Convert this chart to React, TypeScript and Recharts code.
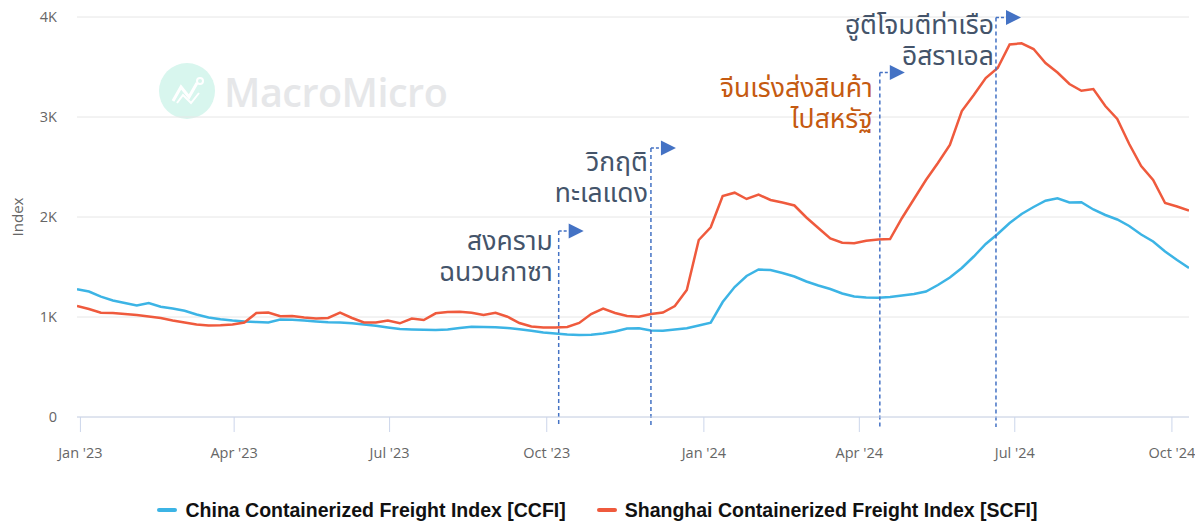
import React from 'react';
import {
  LineChart,
  Line,
  XAxis,
  YAxis,
  CartesianGrid,
  ReferenceLine,
  ReferenceDot
} from 'recharts';

const DAY = 86400000;
const firstWeek = Date.UTC(2022, 11, 30);

// weekly index values, Dec 30 2022 .. Oct 11 2024
const ccfi = [
  1277, 1255, 1203, 1165, 1140, 1115, 1140, 1103, 1085, 1062,
  1025, 995, 978, 965, 955, 950, 945, 975, 972, 965,
  955, 947, 945, 938, 925, 912, 895, 880, 875, 872,
  870, 875, 890, 903, 900, 897, 890, 877, 862, 845,
  835, 825, 820, 822, 835, 855, 885, 887, 865, 863,
  875, 888, 915, 943, 1150, 1300, 1410, 1475, 1470, 1440,
  1405, 1355, 1315, 1280, 1235, 1205, 1195, 1193, 1200, 1215,
  1230, 1255, 1320, 1395, 1490, 1605, 1730, 1830, 1940, 2030,
  2100, 2163, 2187, 2145, 2147, 2075, 2020, 1975, 1910, 1825,
  1755, 1655, 1570, 1490
];

const scfi = [
  1110, 1080, 1043, 1040, 1030, 1020, 1005, 990, 965, 945,
  925, 915, 918, 925, 945, 1040, 1045, 1008, 1010, 995,
  985, 990, 1043, 990, 945, 945, 965, 937, 985, 970,
  1037, 1050, 1052, 1043, 1020, 1043, 1003, 940, 905, 895,
  895, 900, 940, 1030, 1085, 1040, 1010, 1003, 1030, 1045,
  1110, 1270, 1770, 1897, 2210, 2243, 2180, 2225, 2170, 2145,
  2115, 1995, 1890, 1785, 1743, 1737, 1762, 1775, 1780, 1990,
  2180, 2370, 2540, 2720, 3060, 3220, 3390, 3490, 3725, 3737,
  3680, 3540, 3445, 3330, 3262, 3280, 3110, 2980, 2730, 2510,
  2370, 2140, 2105, 2065
];

const weeks = ccfi.map((_, i) => firstWeek + i * 7 * DAY);

const quarterTicks = [
  Date.UTC(2023, 0, 1), Date.UTC(2023, 3, 1), Date.UTC(2023, 6, 1), Date.UTC(2023, 9, 1),
  Date.UTC(2024, 0, 1), Date.UTC(2024, 3, 1), Date.UTC(2024, 6, 1), Date.UTC(2024, 9, 1)
];
const quarterLabels = ["Jan '23", "Apr '23", "Jul '23", "Oct '23", "Jan '24", "Apr '24", "Jul '24", "Oct '24"];

const yTicks = [0, 1000, 2000, 3000, 4000];
const yLabels = ['0', '1K', '2K', '3K', '4K'];

const seriesNames = ['China Containerized Freight Index [CCFI]', 'Shanghai Containerized Freight Index [SCFI]'];

// events marked on the chart
const eventDates = [Date.UTC(2023, 9, 8), Date.UTC(2023, 11, 1), Date.UTC(2024, 3, 13), Date.UTC(2024, 5, 20)];
const eventTops = [1860, 2690, 3445, 3995];
const eventLabels = [
  ['สงคราม', 'ฉนวนกาซา'],
  ['วิกฤติ', 'ทะเลแดง'],
  ['จีนเร่งส่งสินค้า', 'ไปสหรัฐ'],
  ['ฮูตีโจมตีท่าเรือ', 'อิสราเอล']
];

const BLUE = '#3cb4e5';
const RED = '#ef5a3d';
const EVENT_BLUE = '#4472c4';
const eventColors = ['#44546a', '#44546a', '#c55a11', '#44546a'];
const labelDx = [-6, -3, -7, -2];
const labelDy = [9, 13, 15, 7];
const LINE_H = 31;
const THAI_FONT = '"Noto Sans", "Noto Sans Thai", "Leelawadee UI", sans-serif';
const TICK_FONT = '"Open Sans", sans-serif';

const rows = weeks.map((t, i) => ({ t, ccfi: ccfi[i], scfi: scfi[i] }));

const renderEvent = (idx: number) => (props: any) => {
  const { cx, cy } = props;
  const tx = cx + labelDx[idx];
  const boxW = 300;
  return (
    <g>
      <line x1={cx} y1={cy} x2={cx + 10} y2={cy} stroke={EVENT_BLUE} strokeWidth={1.5} strokeDasharray="3 2" />
      <polygon points={`${cx + 10},${cy - 7.5} ${cx + 25},${cy} ${cx + 10},${cy + 7.5}`} fill={EVENT_BLUE} />
      <foreignObject x={tx - boxW} y={cy + labelDy[idx] - LINE_H / 2} width={boxW} height={LINE_H * 2} style={{ overflow: 'visible' }}>
        <div
          style={{
            textAlign: 'right',
            fontSize: 26.5,
            fontFamily: THAI_FONT,
            color: eventColors[idx],
            whiteSpace: 'nowrap'
          }}
        >
          {eventLabels[idx].map((line, k) => (
            <div key={k} style={{ height: LINE_H, lineHeight: `${LINE_H}px` }}>
              {line}
            </div>
          ))}
        </div>
      </foreignObject>
    </g>
  );
};

export default function App() {
  return (
    <div style={{ position: 'absolute', left: 0, top: 0, width: 1195, height: 523, background: '#fff', overflow: 'hidden' }}>
      {/* watermark */}
      <div style={{ position: 'absolute', left: 159, top: 63, width: 56, height: 56, borderRadius: 28, background: '#d8f6ee' }}>
        <svg width={56} height={56}>
          <polyline points="14,38 22,24 30,34 38,20" fill="none" stroke="#fff" strokeWidth={3} />
          <polyline points="18,40 24,32 32,40 40,30" fill="none" stroke="#fff" strokeWidth={2} />
          <circle cx={41} cy={18} r={3} fill="none" stroke="#fff" strokeWidth={2} />
        </svg>
      </div>
      <div style={{ position: 'absolute', left: 224, top: 65, fontFamily: TICK_FONT, fontWeight: 600, fontSize: 39.5, color: '#e6e7e9', letterSpacing: -0.5 }}>
        MacroMicro
      </div>

      <div
        style={{
          position: 'absolute',
          left: 17,
          top: 217,
          transform: 'translate(-50%, -50%) rotate(-90deg)',
          fontFamily: TICK_FONT,
          fontSize: 15,
          color: '#666'
        }}
      >
        Index
      </div>

      <div style={{ position: 'absolute', left: 0, top: 0 }}>
        <LineChart width={1195} height={523} data={rows} margin={{ top: 17, right: 6, bottom: 66, left: 0 }}>
          <CartesianGrid vertical={false} stroke="#e6e6e6" />
          <XAxis
            dataKey="t"
            type="number"
            domain={[weeks[0], weeks[weeks.length - 1]]}
            ticks={quarterTicks}
            tickFormatter={(v: number) => quarterLabels[quarterTicks.indexOf(v)]}
            height={40}
            stroke="#ccd6eb"
            tickSize={15}
            tickMargin={16}
            tick={{ fill: '#666', fontSize: 14.5, fontFamily: TICK_FONT }}
            allowDataOverflow
          />
          <YAxis
            width={77}
            domain={[0, 4000]}
            ticks={yTicks}
            tickFormatter={(v: number) => yLabels[yTicks.indexOf(v)]}
            axisLine={false}
            tickLine={false}
            tickSize={0}
            tickMargin={20}
            tick={{ fill: '#666', fontSize: 14.5, fontFamily: TICK_FONT }}
          />
          <Line type="linear" dataKey="ccfi" stroke={BLUE} strokeWidth={2.5} dot={false} isAnimationActive={false} />
          <Line type="linear" dataKey="scfi" stroke={RED} strokeWidth={2.5} dot={false} isAnimationActive={false} />
          {eventDates.map((d, i) => (
            <ReferenceLine
              key={'l' + i}
              segment={[{ x: d, y: eventTops[i] }, { x: d, y: -100 }]}
              stroke={EVENT_BLUE}
              strokeWidth={1.5}
              strokeDasharray="4 3"
              ifOverflow="visible"
            />
          ))}
          {eventDates.map((d, i) => (
            <ReferenceDot key={'d' + i} x={d} y={eventTops[i]} ifOverflow="visible" shape={renderEvent(i)} />
          ))}
        </LineChart>
      </div>

      <div
        style={{
          position: 'absolute',
          left: 0,
          top: 498,
          width: 1195,
          display: 'flex',
          justifyContent: 'center',
          gap: 31,
          fontFamily: '"Liberation Sans", Arial, sans-serif',
          fontWeight: 700,
          fontSize: 19.5,
          color: '#111',
          lineHeight: '24px'
        }}
      >
        {seriesNames.map((name, i) => (
          <div key={name} style={{ display: 'flex', alignItems: 'center' }}>
            <span style={{ display: 'inline-block', width: 20, height: 4, borderRadius: 2, background: i === 0 ? BLUE : RED, marginRight: 8 }} />
            {name}
          </div>
        ))}
      </div>
    </div>
  );
}
